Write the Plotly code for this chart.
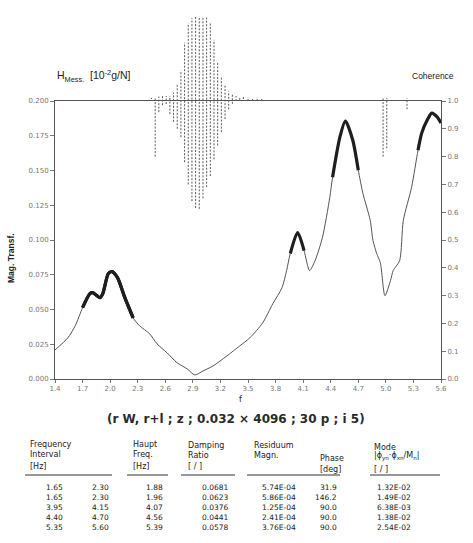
import plotly.graph_objects as go

# ---------------- data ----------------
freq = [1.40, 1.54, 1.62, 1.70, 1.78, 1.81, 1.89, 1.92, 1.98, 2.02, 2.08, 2.16, 2.25, 2.32,
        2.43, 2.51, 2.62, 2.73, 2.84, 2.92, 3.01, 3.12, 3.27, 3.41, 3.52, 3.66, 3.77, 3.87,
        3.92, 3.96, 4.04, 4.11, 4.17, 4.23, 4.31, 4.39, 4.42, 4.50, 4.56, 4.64, 4.70, 4.75,
        4.83, 4.86, 4.90, 4.94, 4.99, 5.05, 5.08, 5.15, 5.19, 5.28, 5.35, 5.39, 5.45, 5.50,
        5.56, 5.60]
mag = [0.0209, 0.0296, 0.0383, 0.0513, 0.0614, 0.0621, 0.0585, 0.0614, 0.0758, 0.0773, 0.0729,
       0.0585, 0.0440, 0.0383, 0.0325, 0.0253, 0.0188, 0.0116, 0.0072, 0.0029, 0.0058, 0.0094,
       0.0166, 0.0238, 0.0296, 0.0404, 0.0542, 0.0657, 0.0780, 0.0903, 0.1054, 0.0924, 0.0780,
       0.0852, 0.1018, 0.1307, 0.1451, 0.1740, 0.1856, 0.1718, 0.1502, 0.1336, 0.1141, 0.0996,
       0.0903, 0.0837, 0.0599, 0.0707, 0.0780, 0.0852, 0.1141, 0.1379, 0.1646, 0.1769, 0.1863,
       0.1913, 0.1884, 0.1841]

# coherence scatter band (upper / lower envelope of the noisy coherence trace)
coh_f = [2.45, 2.49, 2.53, 2.57, 2.61, 2.65, 2.69, 2.73, 2.77, 2.81, 2.85, 2.89, 2.93, 2.97,
         3.01, 3.05, 3.09, 3.13, 3.17, 3.21, 3.25, 3.29, 3.33, 3.37, 3.41, 3.45, 3.50, 3.55,
         3.60, 3.65, 4.97, 5.01, 5.23]
coh_hi = [1.011, 1.014, 1.016, 1.018, 1.018, 1.018, 1.030, 1.060, 1.110, 1.210, 1.280, 1.298,
          1.303, 1.305, 1.305, 1.300, 1.280, 1.220, 1.140, 1.090, 1.055, 1.035, 1.024, 1.018,
          1.016, 1.014, 1.014, 1.011, 1.014, 1.011, 1.010, 1.010, 1.010]
coh_lo = [1.007, 0.800, 0.960, 0.985, 0.989, 0.953, 0.925, 0.900, 0.870, 0.780, 0.700, 0.640,
          0.615, 0.612, 0.650, 0.690, 0.730, 0.790, 0.840, 0.888, 0.935, 0.970, 0.990, 1.000,
          1.004, 1.007, 1.000, 1.000, 1.000, 1.000, 0.800, 0.830, 0.970]

x_ticks = [1.4, 1.7, 2.0, 2.3, 2.6, 2.9, 3.2, 3.5, 3.8, 4.1, 4.4, 4.7, 5.0, 5.3, 5.6]
x_ticktext = ["1.4", "1.7", "2.0", "2.3", "2.6", "2.9", "3.2", "3.5", "3.8", "4.1", "4.4",
              "4.7", "5.0", "5.3", "5.6"]
mag_ticks = [0.0, 0.025, 0.05, 0.075, 0.1, 0.125, 0.15, 0.175, 0.2]
mag_ticktext = ["0.000", "0.025", "0.050", "0.075", "0.100", "0.125", "0.150", "0.175", "0.200"]
coh_ticks = [0.0, 0.1, 0.2, 0.3, 0.4, 0.5, 0.6, 0.7, 0.8, 0.9, 1.0]
coh_ticktext = ["0.0", "0.1", "0.2", "0.3", "0.4", "0.5", "0.6", "0.7", "0.8", "0.9", "1.0"]

# table
int_lo = ["1.65", "1.65", "3.95", "4.40", "5.35"]
int_hi = ["2.30", "2.30", "4.15", "4.70", "5.60"]
haupt = ["1.88", "1.96", "4.07", "4.56", "5.39"]
damping = ["0.0681", "0.0623", "0.0376", "0.0441", "0.0578"]
residuum = ["5.74E-04", "5.86E-04", "1.25E-04", "2.41E-04", "3.76E-04"]
phase = ["31.9", "146.2", "90.0", "90.0", "90.0"]
mode = ["1.32E-02", "1.49E-02", "6.38E-03", "1.38E-02", "2.54E-02"]

# ---------------- layout geometry (pixels) ----------------
W, H = 473, 543
L, R, T, B = 55, 32, 15, 164
PW, PH = W - L - R, H - T - B          # 386 x 364
MAIN_TOP = 101                          # pixel of main box top


def px(x):
    return (x - L) / PW


def py(y):
    return (T + PH - y) / PH


main_dom = py(MAIN_TOP)
coh_range_top = PH / (T + PH - MAIN_TOP)

fig = go.Figure()

# coherence band as dashed vertical strokes
cx, cy = [], []
for f, lo, hi in zip(coh_f, coh_lo, coh_hi):
    cx += [f, f, None]
    cy += [lo, hi, None]
fig.add_trace(go.Scatter(x=cx, y=cy, xaxis="x", yaxis="y3", mode="lines",
                         line=dict(color="#5a5a5a", width=1, dash="2px,1.5px"),
                         hoverinfo="skip", showlegend=False))

# magnitude curve
fig.add_trace(go.Scatter(x=freq, y=mag, xaxis="x", yaxis="y", mode="lines",
                         line=dict(color="#555555", width=1, shape="spline", smoothing=0.7),
                         showlegend=False))

# thick fitted intervals
for lo_s, hi_s in zip(int_lo, int_hi):
    lo, hi = float(lo_s), float(hi_s)
    sx = [f for f in freq if lo <= f <= hi]
    sy = [m for f, m in zip(freq, mag) if lo <= f <= hi]
    fig.add_trace(go.Scatter(x=sx, y=sy, xaxis="x", yaxis="y", mode="lines",
                             line=dict(color="#1e1e1e", width=3.2, shape="spline",
                                       smoothing=0.7),
                             showlegend=False))

# dummy trace to activate right axis
fig.add_trace(go.Scatter(x=[1.4], y=[0], yaxis="y2", xaxis="x", mode="markers",
                         marker=dict(size=0.1, opacity=0), showlegend=False,
                         hoverinfo="skip"))

tickfont = dict(family="DejaVu Sans", size=7, color="#777777")
fig.update_layout(
    width=W, height=H,
    margin=dict(l=L, r=R, t=T, b=B),
    paper_bgcolor="white", plot_bgcolor="rgba(0,0,0,0)",
    xaxis=dict(range=[1.4, 5.6], tickvals=x_ticks, ticktext=x_ticktext, anchor="y",
               showline=True, linecolor="#555555", linewidth=1, mirror=True,
               ticks="outside", ticklen=3, tickcolor="#777777", tickfont=tickfont,
               showgrid=False, zeroline=False),
    yaxis=dict(domain=[0, main_dom], range=[0, 0.2], tickvals=mag_ticks,
               ticktext=mag_ticktext, showline=True, linecolor="#555555", linewidth=1,
               ticks="outside", ticklen=4, tickcolor="#777777", tickfont=tickfont,
               showgrid=False, zeroline=False),
    yaxis2=dict(overlaying="y", side="right", range=[0, 1], tickvals=coh_ticks,
                ticktext=coh_ticktext, showline=True, linecolor="#555555", linewidth=1,
                ticks="outside", ticklen=4, tickcolor="#777777", tickfont=tickfont,
                showgrid=False, zeroline=False),
    yaxis3=dict(domain=[0, 1], range=[0, coh_range_top], anchor="x", visible=False,
                showgrid=False, zeroline=False),
)

ann = []


def text(x, y, s, size=8, anchor="left", family="DejaVu Sans", color="#222222", angle=0):
    ann.append(dict(x=px(x), y=py(y), xref="paper", yref="paper", text=s, showarrow=False,
                    xanchor=anchor, yanchor="middle", textangle=angle,
                    font=dict(family=family, size=size, color=color)))


text(55, 76, "H<sub>Mess.</sub>  [10<sup>-2</sup>g/N]", size=10.5, family="Liberation Sans")
text(410, 76, "Coherence", size=8.5, family="Liberation Sans")
text(11, 258, "<b>Mag. Transf.</b>", size=8.5, anchor="center", angle=-90,
     family="Liberation Sans")
text(240, 399, "f", size=8, anchor="center")
text(236, 419, "<b>(r W, r+l ; z ; 0.032 × 4096 ; 30 p ; i 5)</b>", size=12,
     anchor="center", family="DejaVu Sans", color="#2a2a2a")

# table headers
hs = 8
hf = "DejaVu Sans"
text(28, 444, "Frequency", hs, family=hf)
text(28, 454, "Interval", hs, family=hf)
text(28, 466, "[Hz]", hs, family=hf)
text(131, 444, "Haupt", hs, family=hf)
text(131, 454, "Freq.", hs, family=hf)
text(131, 466, "[Hz]", hs, family=hf)
text(186, 445, "Damping", hs, family=hf)
text(186, 455, "Ratio", hs, family=hf)
text(186, 466, "[ / ]", hs, family=hf)
text(252, 445, "Residuum", hs, family=hf)
text(252, 455, "Magn.", hs, family=hf)
text(318, 458, "Phase", hs, family=hf)
text(318, 469, "[deg]", hs, family=hf)
text(372, 447, "Mode", hs, family=hf)
text(372, 457, "|ϕ<sub>yn</sub>·ϕ<sub>xn</sub>/M<sub>n</sub>|", hs, family=hf)
text(372, 469, "[ / ]", hs, family=hf)

vs = 7.5
for i in range(len(int_lo)):
    yy = 487 + 10 * i
    text(65, yy, int_lo[i], vs, anchor="right", family=hf)
    text(111, yy, int_hi[i], vs, anchor="right", family=hf)
    text(165, yy, haupt[i], vs, anchor="right", family=hf)
    text(230, yy, damping[i], vs, anchor="right", family=hf)
    text(298, yy, residuum[i], vs, anchor="right", family=hf)
    text(339, yy, phase[i], vs, anchor="right", family=hf)
    text(413, yy, mode[i], vs, anchor="right", family=hf)

shapes = []
for a, b in [(25, 112), (127, 168), (181, 235), (247, 340), (370, 440)]:
    shapes.append(dict(type="line", xref="paper", yref="paper", x0=px(a), x1=px(b),
                       y0=py(475), y1=py(475), line=dict(color="#333333", width=1)))

fig.update_layout(annotations=ann, shapes=shapes)
fig.write_html("out.html")
